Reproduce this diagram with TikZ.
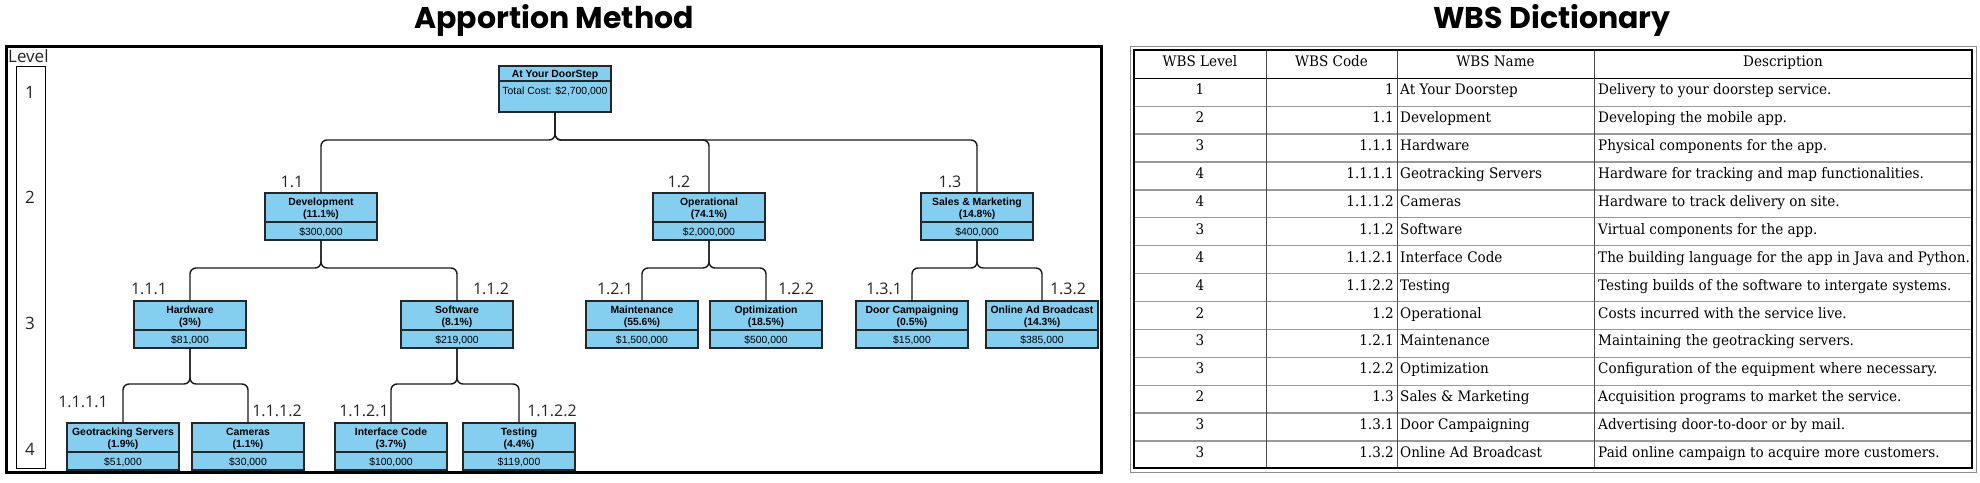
\documentclass[tikz,border=0pt]{standalone}
\usepackage{fontspec}
\setmainfont{Liberation Sans}
\newfontfamily\titlefont{Poppins}
\newfontfamily\lblfont{Open Sans}
\newfontfamily\tabfont[FakeStretch=0.935]{DejaVu Serif}
\definecolor{boxblue}{RGB}{132,206,240}
\tikzset{
  wbs/.style={draw=black!85, line width=1.3pt, fill=boxblue, minimum width=112pt, minimum height=47pt, inner sep=0pt, outer sep=0pt},
  hdr/.style={font=\fontsize{10.4}{11}\selectfont\bfseries, inner sep=0pt, anchor=base},
  val/.style={font=\fontsize{10.4}{11}\selectfont, inner sep=0pt, anchor=base},
  conn/.style={line width=1.4pt, draw=black!90, rounded corners=6pt},
  codelbl/.style={font=\lblfont\fontsize{16}{18}\selectfont, text=black!85, inner sep=0pt},
  lvlnum/.style={font=\lblfont\fontsize{17}{19}\selectfont, text=black!85, inner sep=0pt},
  ttl/.style={font=\titlefont\bfseries\fontsize{30}{34}\selectfont, inner sep=0pt},
  tabtxt/.style={font=\tabfont\fontsize{14.5}{16}\selectfont, inner sep=0pt, anchor=mid},
  rowline/.style={draw=black!40, line width=1.3pt},
  colline/.style={draw=black!70, line width=0.9pt}
}
\newcommand\wbsnode[6]{%
  \node[wbs, anchor=north] (#1) at (#2,#3) {};
  \draw[line width=1.3pt, draw=black!85] ([yshift=-29pt]#1.north west) -- ([yshift=-29pt]#1.north east);
  \node[hdr] (#1-t) at ([yshift=-12pt]#1.north) {#4};
  \node[hdr] (#1-p) at ([yshift=-24.5pt]#1.north) {#5};
  \node[val] (#1-c) at ([yshift=-42pt]#1.north) {#6};
}
\begin{document}
\begin{tikzpicture}[x=1pt,y=-1pt]
\useasboundingbox[fill=white] (0,0) rectangle (1980,482);

% ---------- left panel ----------
\node[ttl] (title1) at (554,20) {Apportion Method};
\node[draw=black, line width=2.6pt, minimum width=1095pt, minimum height=426pt, anchor=north west, inner sep=0pt] (frame1) at (5,45) {};
\node[font=\lblfont\fontsize{17}{19}\selectfont, text=black!85, inner sep=0pt, anchor=west] (lvl) at (8,56) {Level};
\node[draw=black, line width=1.3pt, minimum width=29pt, minimum height=402pt, anchor=north west, inner sep=0pt] (lvlbox) at (16,66) {};
\node[lvlnum] (l1) at (30,92) {1};
\node[lvlnum] (l2) at (30,197) {2};
\node[lvlnum] (l3) at (30,323) {3};
\node[lvlnum] (l4) at (30,449) {4};

% root
\node[wbs, minimum height=46pt, anchor=north] (root) at (555,66) {};
\draw[line width=1.3pt, draw=black!85] ([yshift=-15pt]root.north west) -- ([yshift=-15pt]root.north east);
\node[hdr] (root-t) at ([yshift=-11pt]root.north) {At Your DoorStep};
\node[val] (root-c) at ([yshift=-28.5pt]root.north) {Total Cost: \$2,700,000};

% level 2
\wbsnode{dev}{321}{193}{Development}{(11.1\%)}{\$300,000}
\wbsnode{ops}{709}{193}{Operational}{(74.1\%)}{\$2,000,000}
\wbsnode{sal}{977}{193}{Sales \& Marketing}{(14.8\%)}{\$400,000}
% level 3
\wbsnode{hw}{190}{301}{Hardware}{(3\%)}{\$81,000}
\wbsnode{sw}{457}{301}{Software}{(8.1\%)}{\$219,000}
\wbsnode{mnt}{642}{301}{Maintenance}{(55.6\%)}{\$1,500,000}
\wbsnode{opt}{766}{301}{Optimization}{(18.5\%)}{\$500,000}
\wbsnode{door}{912}{301}{Door Campaigning}{(0.5\%)}{\$15,000}
\wbsnode{onl}{1042}{301}{Online Ad Broadcast}{(14.3\%)}{\$385,000}
% level 4
\wbsnode{geo}{123}{423}{Geotracking Servers}{(1.9\%)}{\$51,000}
\wbsnode{cam}{248}{423}{Cameras}{(1.1\%)}{\$30,000}
\wbsnode{int}{391}{423}{Interface Code}{(3.7\%)}{\$100,000}
\wbsnode{tst}{519}{423}{Testing}{(4.4\%)}{\$119,000}

% connectors
\coordinate (bus1) at (0,140);
\coordinate (bus2) at (0,268);
\coordinate (bus3) at (0,384);
\foreach \c in {dev,ops,sal} \draw[conn] (root.south) -- (root.south |- bus1) -| (\c.north);
\foreach \c in {hw,sw} \draw[conn] (dev.south) -- (dev.south |- bus2) -| (\c.north);
\foreach \c in {mnt,opt} \draw[conn] (ops.south) -- (ops.south |- bus2) -| (\c.north);
\foreach \c in {door,onl} \draw[conn] (sal.south) -- (sal.south |- bus2) -| (\c.north);
\foreach \c in {geo,cam} \draw[conn] (hw.south) -- (hw.south |- bus3) -| (\c.north);
\foreach \c in {int,tst} \draw[conn] (sw.south) -- (sw.south |- bus3) -| (\c.north);

% code labels
\node[codelbl] (c11) at (292,182) {1.1};
\node[codelbl] (c12) at (679,182) {1.2};
\node[codelbl] (c13) at (950,182) {1.3};
\node[codelbl] (c111) at (149,289) {1.1.1};
\node[codelbl] (c112) at (491,289) {1.1.2};
\node[codelbl] (c121) at (615,289) {1.2.1};
\node[codelbl] (c122) at (796,289) {1.2.2};
\node[codelbl] (c131) at (884,289) {1.3.1};
\node[codelbl] (c132) at (1068,289) {1.3.2};
\node[codelbl] (c1111) at (83,402) {1.1.1.1};
\node[codelbl] (c1112) at (277,411) {1.1.1.2};
\node[codelbl] (c1121) at (364,411) {1.1.2.1};
\node[codelbl] (c1122) at (552,411) {1.1.2.2};

% ---------- right panel ----------
\node[ttl] (title2) at (1552,20) {WBS Dictionary};
\draw[draw=black!45, line width=0.8pt] (1130,46) rectangle (1976,472);
% rows
\foreach \k in {1,...,13} \draw[rowline] (1134,{78.3+\k*27.9}) -- (1972,{78.3+\k*27.9});
\draw[black, line width=1.2pt] (1134,78.3) -- (1972,78.3);
\foreach \cx in {1266,1397,1594} \draw[colline] (\cx,50) -- (\cx,468);
\draw[black, line width=2.4pt] (1134,50) rectangle (1972,468);
% header
\node[tabtxt] (h1) at (1200,64) {WBS Level};
\node[tabtxt] (h2) at (1331.5,64) {WBS Code};
\node[tabtxt] (h3) at (1495.5,64) {WBS Name};
\node[tabtxt] (h4) at (1783,64) {Description};
\foreach \i/\lv/\cd/\nm/\ds in {
 1/1/1/At Your Doorstep/Delivery to your doorstep service.,
 2/2/1.1/Development/Developing the mobile app.,
 3/3/1.1.1/Hardware/Physical components for the app.,
 4/4/1.1.1.1/Geotracking Servers/Hardware for tracking and map functionalities.,
 5/4/1.1.1.2/Cameras/Hardware to track delivery on site.,
 6/3/1.1.2/Software/Virtual components for the app.,
 7/4/1.1.2.1/Interface Code/The building language for the app in Java and Python.,
 8/4/1.1.2.2/Testing/Testing builds of the software to intergate systems.,
 9/2/1.2/Operational/Costs incurred with the service live.,
 10/3/1.2.1/Maintenance/Maintaining the geotracking servers.,
 11/3/1.2.2/Optimization/Configuration of the equipment where necessary.,
 12/2/1.3/Sales \& Marketing/Acquisition programs to market the service.,
 13/3/1.3.1/Door Campaigning/Advertising door-to-door or by mail.,
 14/3/1.3.2/Online Ad Broadcast/Paid online campaign to acquire more customers.}{
  \pgfmathsetmacro\ry{78.3+(\i-0.5)*27.9}
  \node[tabtxt] (r\i a) at (1200,\ry) {\lv};
  \node[tabtxt, anchor=mid east] (r\i b) at (1394,\ry) {\cd};
  \node[tabtxt, anchor=mid west] (r\i c) at (1400,\ry) {\nm};
  \node[tabtxt, anchor=mid west] (r\i d) at (1598,\ry) {\ds};
}
\end{tikzpicture}
\end{document}
